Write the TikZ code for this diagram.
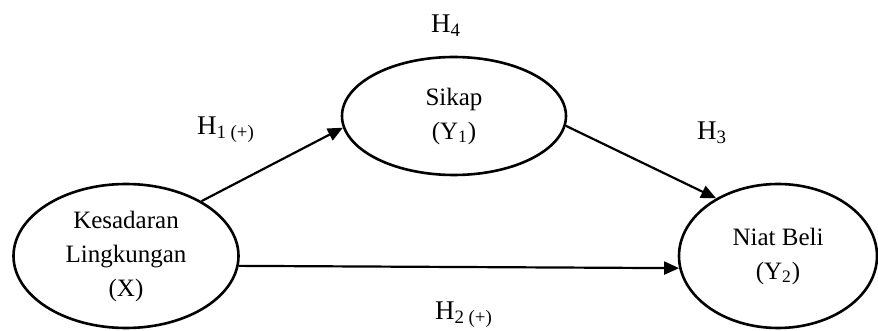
\documentclass[tikz,border=0pt]{standalone}
\usepackage{fontspec}
\setmainfont{Liberation Serif}
\usetikzlibrary{arrows.meta,shapes.geometric,positioning}

\begin{document}
\begin{tikzpicture}[x=0.5pt, y=-0.5pt,
  var/.style={draw, ellipse, line width=1.3pt, inner sep=0pt, align=center, font=\fontsize{12.5}{17}\selectfont},
  hyp/.style={inner sep=0pt, font=\fontsize{13.5}{16}\selectfont},
  link/.style={-{Triangle[length=7.5pt,width=6.5pt]}, line width=1.1pt}
]
\useasboundingbox (0,0) rectangle (878,331);
\node[var, minimum width=112.5pt, minimum height=72pt] (x) at (126,256) {Kesadaran\\Lingkungan\\(X)};
\node[var, minimum width=112pt, minimum height=59pt] (y1) at (454,116) {Sikap\\(Y\textsubscript{1})};
\node[var, minimum width=99pt, minimum height=72pt] (y2) at (778,256) {Niat Beli\\(Y\textsubscript{2})};

\node[hyp] (h4) at (446,26) {H\textsubscript{4}};
\node[hyp] (h1) at (226,130) {H\textsubscript{1 (+)}};
\node[hyp] (h3) at (712,133) {H\textsubscript{3}};
\node[hyp] (h2) at (464,315) {H\textsubscript{2 (+)}};

\draw[link] (x.36) -- (y1.186);
\draw[link] (y1.-5) -- (y2.137);
\draw[link] (x.-5) -- (y2.187);
\end{tikzpicture}
\end{document}
